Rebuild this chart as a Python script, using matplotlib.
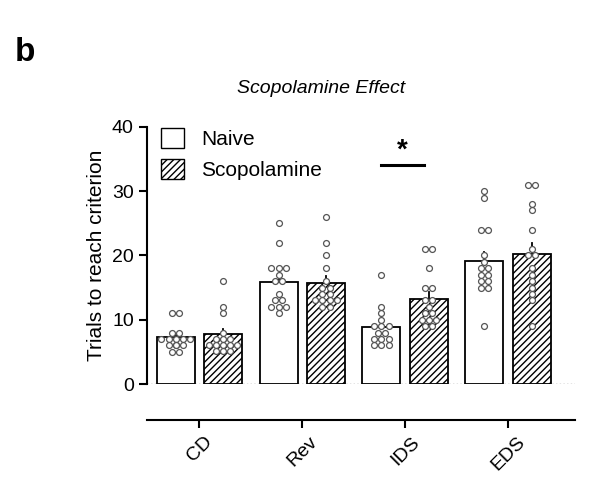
import numpy as np
import matplotlib.pyplot as plt
from matplotlib.patches import Patch

categories = ["CD", "Rev", "IDS", "EDS"]
naive = [
    [11, 11, 8, 8, 7, 7, 7, 7, 7, 7, 7, 7, 6, 5, 5],
    [25, 22, 18, 18, 18, 17, 16, 16, 14, 13, 13, 12, 12, 11, 12],
    [17, 12, 11, 10, 9, 9, 9, 8, 8, 7, 7, 7, 6, 6, 6],
    [30, 29, 24, 24, 20, 19, 18, 18, 17, 17, 16, 16, 15, 15, 9],
]
scopolamine = [
    [16, 12, 11, 8, 7, 7, 7, 6, 6, 6, 6, 6, 6, 6, 6],
    [26, 22, 20, 18, 16, 15, 15, 14, 14, 13, 13, 13, 12, 12, 13],
    [21, 21, 18, 15, 15, 13, 13, 12, 11, 11, 10, 10, 10, 9, 9],
    [31, 31, 28, 27, 24, 21, 20, 20, 18, 17, 16, 15, 14, 13, 9],
]


def swarm(vals, step=0.07, maxcol=5, dy=0.9):
    # offsets for ties; wrap long runs onto extra rows
    vals = np.asarray(vals, float)
    xo = np.zeros(len(vals))
    yo = np.zeros(len(vals))
    for v in np.unique(vals):
        idx = np.where(vals == v)[0]
        for r in range(0, len(idx), maxcol):
            part = idx[r:r + maxcol]
            n = len(part)
            xo[part] = (np.arange(n) - (n - 1) / 2) * step
            yo[part] = -(r // maxcol) * dy
    return xo, yo


plt.rcParams['font.family'] = ['Liberation Sans', 'DejaVu Sans']
fig = plt.figure(figsize=(5.95, 4.88), dpi=100)
ax = fig.add_axes([0.247, 0.213, 0.719, 0.527])

x = np.arange(len(categories))
w = 0.37
for i in range(len(categories)):
    for vals, dx, hatch in [(naive[i], -0.23, None), (scopolamine[i], 0.23, '/////')]:
        m = np.mean(vals)
        sem = np.std(vals, ddof=1) / np.sqrt(len(vals))
        ax.bar(x[i] + dx, m, w, color='white', edgecolor='black', hatch=hatch,
               linewidth=1.3, zorder=2)
        ax.plot([x[i] + dx] * 2, [m, m + sem], color='black', lw=1.3, zorder=3)
        xo, yo = swarm(vals)
        ax.scatter(x[i] + dx + xo, np.asarray(vals) + yo, s=18, facecolor='white',
                   edgecolor='#555555', linewidth=0.9, zorder=4, clip_on=False)

ax.axhline(0, color='#777777', ls=':', lw=1, zorder=1)
ax.plot([1.77, 2.18], [34, 34], color='black', lw=2.2)
ax.text(1.975, 34.3, '*', ha='center', va='bottom', fontsize=20, fontweight='bold')

ax.set_xlim(-0.51, 3.65)
ax.set_ylim(0, 40)
ax.set_yticks([0, 10, 20, 30, 40])
ax.set_xticks(x)
ax.set_xticklabels(categories)
ax.tick_params(axis='y', labelsize=14, width=1.5, length=6)
ax.tick_params(axis='x', labelsize=14, width=1.5, length=6, labelrotation=45)
for lab in ax.get_xticklabels():
    lab.set_ha('right')
    lab.set_rotation_mode('anchor')
ax.spines['top'].set_visible(False)
ax.spines['right'].set_visible(False)
ax.spines['bottom'].set_position(('outward', 26))
for s in ['left', 'bottom']:
    ax.spines[s].set_linewidth(1.5)
ax.set_ylabel('Trials to reach criterion', fontsize=15)

handles = [Patch(facecolor='white', edgecolor='black', label='Naive'),
           Patch(facecolor='white', edgecolor='black', hatch='/////', label='Scopolamine')]
ax.legend(handles=handles, loc='upper left', bbox_to_anchor=(-0.01, 1.07), frameon=False,
          fontsize=15, handlelength=1.1, handleheight=1.1, labelspacing=0.5)

fig.text(0.54, 0.81, 'Scopolamine Effect', ha='center', fontsize=14, style='italic')
fig.text(0.025, 0.875, 'b', fontsize=24, fontweight='bold')

fig.savefig('out.png', dpi=100)
